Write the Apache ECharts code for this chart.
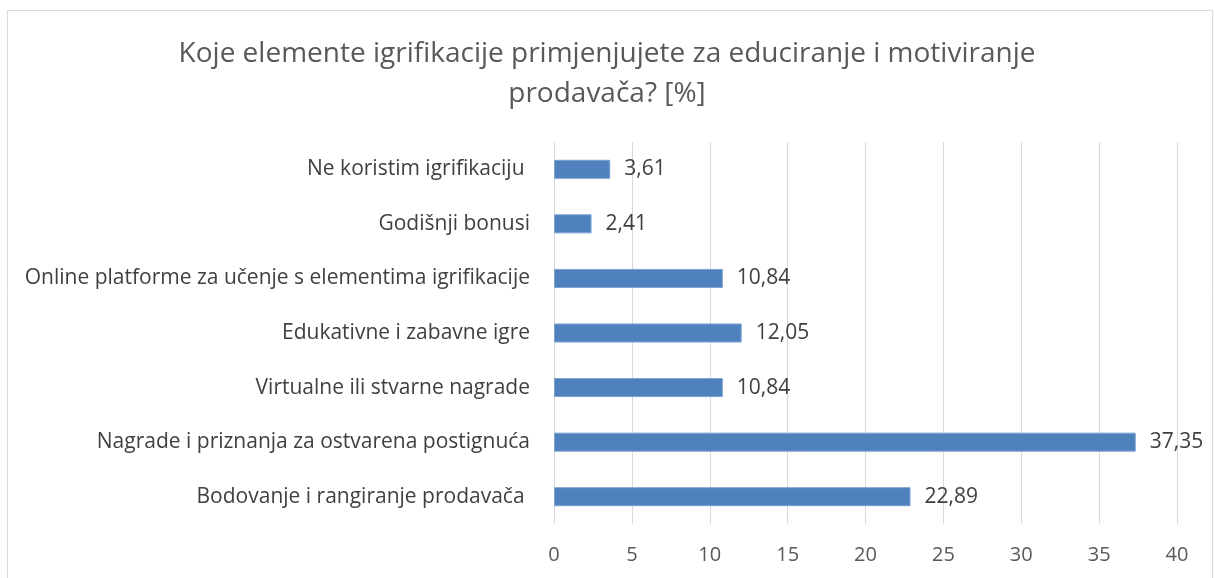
<!DOCTYPE html>
<html>
<head>
<meta charset="utf-8">
<script src="https://cdn.jsdelivr.net/npm/echarts@6/dist/echarts.min.js"></script>
<style>
  html, body { margin: 0; padding: 0; background: #fff; }
  #chart { width: 1214px; height: 578px; }
</style>
</head>
<body>
<div id="chart"></div>
<script>
// categories top to bottom, as in the picture
const categories = [
  "Ne koristim igrifikaciju ",
  "Godišnji bonusi",
  "Online platforme za učenje s elementima igrifikacije",
  "Edukativne i zabavne igre",
  "Virtualne ili stvarne nagrade",
  "Nagrade i priznanja za ostvarena postignuća",
  "Bodovanje i rangiranje prodavača "
];
const values = [3.61, 2.41, 10.84, 12.05, 10.84, 37.35, 22.89];
const xTicks = [0, 5, 10, 15, 20, 25, 30, 35, 40];

const font = "'Open Sans', 'Noto Sans', sans-serif";

const myChart = echarts.init(document.getElementById("chart"));

const option = {
  animation: false,
  title: {
    text: "Koje elemente igrifikacije primjenjujete za educiranje i motiviranje\nprodavača? [%]",
    left: "center",
    top: 29,
    textStyle: {
      fontFamily: font,
      fontWeight: 400,
      fontSize: 28,
      color: "#595959",
      lineHeight: 40
    }
  },
  graphic: [
    {
      type: "rect",
      shape: { x: 7.5, y: 10.5, width: 1205, height: 620 },
      style: { fill: "none", stroke: "#d9d9d9", lineWidth: 1 },
      silent: true
    }
  ],
  grid: {
    left: 554,
    right: 37,
    top: 142,
    bottom: 54
  },
  xAxis: {
    type: "value",
    min: xTicks[0],
    max: xTicks[xTicks.length - 1],
    interval: 5,
    axisLine: { show: false },
    axisTick: { show: false },
    splitLine: { lineStyle: { color: "#d9d9d9", width: 1 } },
    axisLabel: {
      fontFamily: font,
      fontSize: 20,
      color: "#595959",
      margin: 21
    }
  },
  yAxis: {
    type: "category",
    data: categories,
    inverse: true,
    axisLine: { show: false },
    axisTick: { show: false },
    axisLabel: {
      fontFamily: font,
      fontSize: 21,
      color: "#404040",
      margin: 24
    }
  },
  series: [
    {
      type: "bar",
      data: values,
      barWidth: 19,
      itemStyle: { color: "#4f81bd", borderColor: "#7aa0d0", borderWidth: 1 },
      label: {
        show: true,
        position: "right",
        distance: 14,
        fontFamily: font,
        fontSize: 21,
        color: "#404040",
        formatter: function (p) {
          return p.value.toFixed(2).replace(".", ",");
        }
      }
    }
  ]
};

myChart.setOption(option);
</script>
</body>
</html>
